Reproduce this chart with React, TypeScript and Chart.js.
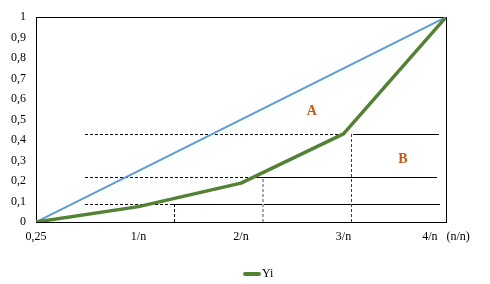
import { useEffect, useRef } from "react";
import { Chart, registerables } from "chart.js";

Chart.register(...registerables);

// ---- data ----
const xTickLabels = ["0,25", "1/n", "2/n", "3/n", "4/n   (n/n)"];
const yTickLabels = ["0", "0,1", "0,2", "0,3", "0,4", "0,5", "0,6", "0,7", "0,8", "0,9", "1"];
const xPositions = [0, 1, 2, 3, 4];
const yiValues = [0, 0.075, 0.19, 0.43, 1];
const equalityValues = [0, 0.25, 0.5, 0.75, 1];

// reference levels (horizontal guides)
const levelValues = [0.09, 0.22, 0.43];
const dashFrom = [0.48, 0.48, 0.48];
const dashTo = [1.34, 2.11, 3.01];
const solidFrom = [1.34, 2.11, 3.09];
const solidTo = [3.94, 3.915, 3.93];
// vertical drop guides
const dropX = [1.35, 2.21, 3.07];

// area labels
const areaLabels = ["A", "B"];
const areaLabelX = [2.69, 3.58];
const areaLabelY = [0.54, 0.305];

const legendLabel = "Yi";

// ---- styles ----
const FONT = '"Liberation Serif", "Times New Roman", serif';
const GREEN = "#548235";
const BLUE = "#5B9BD5";
const ORANGE = "#C55A11";
const dropStyles = [
  { color: "#000000", width: 1, dash: [3, 2] },
  { color: "#A6A6A6", width: 2, dash: [3, 2] },
  { color: "#404040", width: 1, dash: [3, 2] },
];

const snap = (v: number, w: number) => (w % 2 === 1 ? Math.round(v) + 0.5 : Math.round(v));

const framePlugin = {
  id: "frame",
  beforeDatasetsDraw(chart: any) {
    const { ctx, chartArea } = chart;
    ctx.save();
    ctx.strokeStyle = "#000";
    ctx.lineWidth = 1;
    ctx.strokeRect(
      Math.round(chartArea.left) + 0.5,
      Math.round(chartArea.top) + 0.5,
      Math.round(chartArea.right - chartArea.left),
      Math.round(chartArea.bottom - chartArea.top)
    );
    ctx.restore();
  },
};

const guidesPlugin = {
  id: "guides",
  beforeDatasetsDraw(chart: any) {
    const { ctx, scales } = chart;
    const sx = scales.x;
    const sy = scales.y;
    const seg = (x0: number, y0: number, x1: number, y1: number, color: string, w: number, dash: number[]) => {
      ctx.save();
      ctx.strokeStyle = color;
      ctx.lineWidth = w;
      ctx.setLineDash(dash);
      ctx.beginPath();
      ctx.moveTo(x0, y0);
      ctx.lineTo(x1, y1);
      ctx.stroke();
      ctx.restore();
    };
    levelValues.forEach((lv, i) => {
      const py = snap(sy.getPixelForValue(lv), 1);
      seg(Math.round(sx.getPixelForValue(dashFrom[i])), py, Math.round(sx.getPixelForValue(dashTo[i])), py, "#000", 1, [3, 2]);
      seg(Math.round(sx.getPixelForValue(solidFrom[i])), py, Math.round(sx.getPixelForValue(solidTo[i])), py, "#000", 1, []);
      const st = dropStyles[i];
      const px = snap(sx.getPixelForValue(dropX[i]), st.width);
      seg(px, Math.round(sy.getPixelForValue(0)), px, Math.round(sy.getPixelForValue(lv)), st.color, st.width, st.dash);
    });
  },
};

const areaLabelPlugin = {
  id: "areaLabels",
  afterDatasetsDraw(chart: any) {
    const { ctx, scales } = chart;
    ctx.save();
    ctx.fillStyle = ORANGE;
    ctx.font = `bold 14px ${FONT}`;
    ctx.textAlign = "center";
    ctx.textBaseline = "middle";
    areaLabels.forEach((t, i) => {
      ctx.fillText(t, scales.x.getPixelForValue(areaLabelX[i]), scales.y.getPixelForValue(areaLabelY[i]));
    });
    ctx.restore();
  },
};

const customLegendPlugin = {
  id: "customLegend",
  afterDraw(chart: any) {
    const { ctx } = chart;
    const y = 274;
    const x0 = chart.width / 2 - 2;
    ctx.save();
    ctx.strokeStyle = GREEN;
    ctx.lineWidth = 4;
    ctx.lineCap = "round";
    ctx.beginPath();
    ctx.moveTo(x0 + 2, y);
    ctx.lineTo(x0 + 16, y);
    ctx.stroke();
    ctx.fillStyle = "#000";
    ctx.font = `12px ${FONT}`;
    ctx.textAlign = "left";
    ctx.textBaseline = "middle";
    ctx.fillText(legendLabel, x0 + 19, y);
    ctx.restore();
  },
};

export default function App() {
  const ref = useRef<HTMLCanvasElement | null>(null);

  useEffect(() => {
    if (!ref.current) return;

    const datasets: any[] = [
      {
        label: legendLabel,
        data: xPositions.map((x, i) => ({ x, y: yiValues[i] })),
        borderColor: GREEN,
        borderWidth: 3.5,
        pointRadius: 0,
        tension: 0,
        borderJoinStyle: "round",
      },
      {
        label: "equality",
        data: xPositions.map((x, i) => ({ x, y: equalityValues[i] })),
        borderColor: BLUE,
        borderWidth: 2,
        pointRadius: 0,
        tension: 0,
      },
    ];

    const chart = new Chart(ref.current, {
      type: "line",
      data: { datasets },
      options: {
        responsive: false,
        animation: false,
        devicePixelRatio: 1,
        layout: { padding: { top: 13, right: 44, left: 0, bottom: 0 } },
        plugins: {
          legend: { display: false },
          tooltip: { enabled: false },
        },
        scales: {
          x: {
            type: "linear",
            min: 0,
            max: 4,
            grid: { display: false, drawTicks: false },
            border: { display: false },
            afterFit: (s: any) => {
              s.height = 62;
            },
            ticks: {
              stepSize: 1,
              autoSkip: false,
              maxRotation: 0,
              padding: 8,
              color: "#000",
              font: { family: FONT, size: 12 },
              callback: (v: any) => xTickLabels[Math.round(Number(v))] ?? "",
            },
          },
          y: {
            type: "linear",
            min: 0,
            max: 1,
            grid: { display: false, drawTicks: false },
            border: { display: false },
            afterFit: (s: any) => {
              s.width = 36;
            },
            ticks: {
              stepSize: 0.1,
              autoSkip: false,
              padding: 10,
              color: "#000",
              font: { family: FONT, size: 12 },
              callback: (v: any) => yTickLabels[Math.round(Number(v) * 10)] ?? "",
            },
          },
        },
      },
      plugins: [framePlugin, guidesPlugin, areaLabelPlugin, customLegendPlugin],
    });

    return () => chart.destroy();
  }, []);

  return (
    <div style={{ position: "fixed", left: 0, top: 0, width: 490, height: 284, background: "#fff" }}>
      <canvas ref={ref} width={490} height={284} style={{ width: 490, height: 284 }} />
    </div>
  );
}
